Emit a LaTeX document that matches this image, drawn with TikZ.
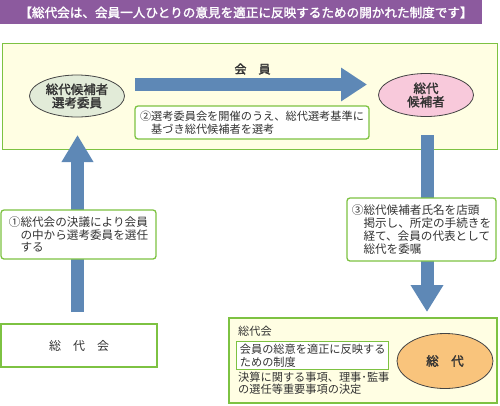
\documentclass[tikz,border=0pt]{standalone}
\usepackage{fontspec}
\setmainfont{Noto Sans CJK JP}[AutoFakeBold=2]
\usetikzlibrary{arrows.meta,shapes.geometric}
\definecolor{titlepurple}{HTML}{8C5A9E}
\definecolor{boxgreen}{HTML}{7DC242}
\definecolor{paleyellow}{HTML}{FFFEE3}
\definecolor{arrowblue}{HTML}{5E88B6}
\definecolor{palegreen}{HTML}{E2EBD8}
\definecolor{palepink}{HTML}{F8C9DB}
\definecolor{paleorange}{HTML}{F9C47C}
\definecolor{textgray}{HTML}{333333}
\definecolor{edgegray}{HTML}{444444}
\begin{document}
\begin{tikzpicture}[x=1pt,y=-1pt,
  txt/.style={font=\fontsize{11.2}{12.8}\selectfont, text=textgray},
  bigtxt/.style={font=\fontsize{11.6}{12.8}\selectfont, text=textgray},
  greenbox/.style={draw=boxgreen, line width=1.3pt, fill=white, inner sep=0pt},
  roundbox/.style={greenbox, rounded corners=3pt},
  bigarrow/.style={draw=arrowblue, line width=13pt, -{Triangle[width=31pt,length=27pt]}},
  oval/.style={ellipse, draw=edgegray, line width=0.8pt, inner sep=0pt, align=center,
    font=\fontsize{12.5}{13.3}\selectfont\bfseries, text=textgray}
]
\useasboundingbox (0,0) rectangle (500,405);
% title
\node[fill=titlepurple, minimum width=482pt, minimum height=24pt, inner sep=0pt, anchor=north west] (titlebar) at (0,0) {};
\node[text=white, font=\fontsize{12.6}{14}\selectfont\bfseries, inner sep=0pt] (titletext) at (246,12.5)
  {【総代会は、会員一人ひとりの意見を適正に反映するための開かれた制度です】};
% top box
\node[draw=boxgreen, line width=1.5pt, fill=paleyellow, minimum width=495pt, minimum height=106pt,
  inner sep=0pt, anchor=north west] (topbox) at (1.5,42.5) {};
% bottom right box
\node[draw=boxgreen, line width=1.3pt, fill=paleyellow, minimum width=268pt, minimum height=85pt,
  inner sep=0pt] (sdbox) at (363,360.5) {};
% ellipses
\node[oval, fill=palegreen, minimum width=95pt, minimum height=42pt] (cand) at (77,96) {総代候補者\\選考委員};
\node[oval, fill=palepink, minimum width=95pt, minimum height=43pt] (nominee) at (426,95) {総代\\候補者};
\node[oval, fill=paleorange, minimum width=96pt, minimum height=55pt] (delegate) at (445,361) {総　代};
% arrow coordinates
\coordinate (hs) at (135,84.5);
\coordinate (he) at (367,84.5);
\coordinate (us) at (77.5,312);
\coordinate (ue) at (77.5,135);
\coordinate (ds) at (427,135);
\coordinate (de) at (427,312);
\draw[bigarrow, -{Triangle[width=32pt,length=26pt]}] (hs) -- (he);
\draw[bigarrow, -{Triangle[width=30pt,length=27pt]}] (us) -- (ue);
\draw[bigarrow] (ds) -- (de);
\node[txt, font=\fontsize{12}{13}\selectfont\bfseries, inner sep=0pt] (member) at (252.5,69) {会　員};
% step boxes
\node[roundbox, txt, align=left, minimum width=234pt, minimum height=33pt] (s2) at (252,122.5)
  {②選考委員会を開催のうえ、総代選考基準に\\\hphantom{②}基づき総代候補者を選考};
\node[roundbox, bigtxt, align=left, minimum width=155pt, minimum height=49pt] (s1) at (78.5,234.5)
  {①総代会の決議により会員\\\hphantom{①}の中から選考委員を選任\\\hphantom{①}する};
\node[roundbox, bigtxt, align=left, minimum width=149pt, minimum height=63pt] (s3) at (421.5,229.5)
  {③総代候補者氏名を店頭\\\hphantom{③}掲示し、所定の手続きを\\\hphantom{③}経て、会員の代表として\\\hphantom{③}総代を委嘱};
% general meeting box
\node[greenbox, txt, font=\fontsize{12}{13}\selectfont, minimum width=156pt, minimum height=43pt] (gm) at (79,345.5) {総　代　会};
% bottom right texts
\node[txt, anchor=west, inner sep=0pt] (sdtitle) at (238,331) {総代会};
\node[greenbox, txt, align=left, minimum width=152pt, minimum height=28pt, anchor=north west, inner xsep=2pt] (sdsys) at (236,341)
  {会員の総意を適正に反映する\\ための制度};
\node[txt, align=left, anchor=north west, inner sep=0pt] (sdmatters) at (238,371.5)
  {決算に関する事項、理事･監事\\の選任等重要事項の決定};
\end{tikzpicture}
\end{document}
